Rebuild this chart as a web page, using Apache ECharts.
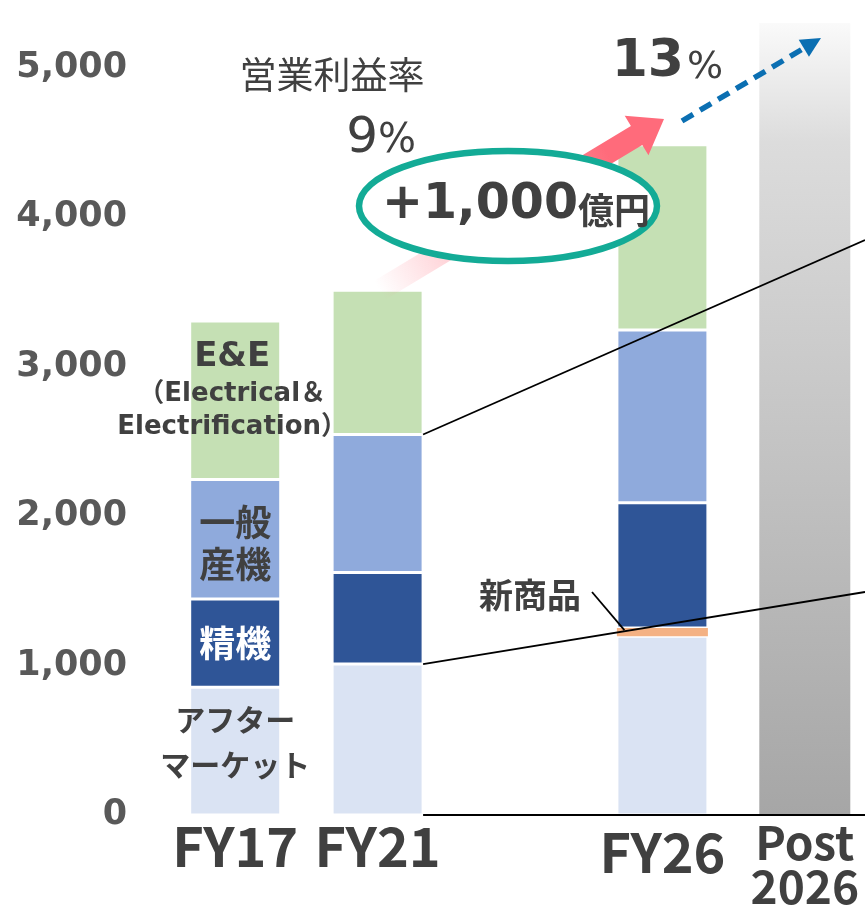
<!DOCTYPE html>
<html>
<head>
<meta charset="utf-8">
<script src="https://cdn.jsdelivr.net/npm/echarts@6/dist/echarts.min.js"></script>
<style>
  html, body { margin: 0; padding: 0; background: #fff; }
  #main { width: 865px; height: 909px; }
</style>
</head>
<body>
<div id="main"></div>
<script>
// 売上高 (億円) - 事業別
const categories = ['FY17', 'FY21', '', 'FY26', 'Post\n2026'];
const afterMarket = [855, 1010, null, 1196, null];
const newProducts = [null, null, null, 55, null];
const precision = [590, 612, null, 839, null];
const general = [800, 924, null, 1156, null];
const electrical = [1060, 965, null, 1239, null];
const post2026 = [null, null, null, null, 5300];

const JP = '"Noto Sans CJK JP", sans-serif';
const LAT = '"DejaVu Sans", "Noto Sans CJK JP", sans-serif';
const TXT = '#404040';
const HALF = 45.5;

const chart = echarts.init(document.getElementById('main'));

// FY17 の棒だけにラベルを付ける
function fy17Label(text, rich, offset) {
  return {
    show: true,
    position: 'inside',
    offset: offset || [0, 0],
    formatter: (p) => (p.dataIndex === 0 ? text : ''),
    rich: rich
  };
}

const seg = (name, data, color, label) => ({
  name: name,
  type: 'bar',
  stack: 'total',
  barWidth: 91,
  data: data,
  itemStyle: { color: color, borderColor: '#fff', borderWidth: 1.5 },
  label: label || { show: false }
});

chart.setOption({
  animation: false,
  grid: { left: 164, right: -11, top: 23, bottom: 94, containLabel: false, outerBoundsMode: 'none' },
  xAxis: {
    type: 'category',
    data: categories,
    axisLine: { show: false },
    axisTick: { show: false },
    axisLabel: {
      margin: 3,
      formatter: (v) => {
        if (v === 'FY26') return '{d|FY26}';
        if (v.indexOf('Post') === 0) return '{p|Post}\n{q|2026}';
        return '{a|' + v + '}';
      },
      rich: {
        a: { fontSize: 54, fontWeight: 'bold', fontFamily: JP, color: TXT, lineHeight: 56 },
        d: { fontSize: 54, fontWeight: 'bold', fontFamily: JP, color: TXT, lineHeight: 56, padding: [13, 0, 0, 0] },
        p: { fontSize: 46, fontWeight: 'bold', fontFamily: JP, color: TXT, lineHeight: 46, padding: [4, 0, 0, 0] },
        q: { fontSize: 46, fontWeight: 'bold', fontFamily: JP, color: TXT, lineHeight: 46 }
      }
    }
  },
  yAxis: {
    type: 'value',
    min: 0,
    max: 5300,
    interval: 1000,
    splitLine: { show: false },
    axisLine: { show: false },
    axisTick: { show: false },
    axisLabel: {
      showMaxLabel: false,
      margin: 37,
      fontSize: 35,
      fontWeight: 'bold',
      fontFamily: LAT,
      color: '#595959',
      formatter: (v) => (v % 1000 === 0 ? v.toLocaleString('en-US') : '')
    }
  },
  series: [
    seg('アフターマーケット', afterMarket, '#DAE3F3',
      fy17Label('{a|アフター}\n{a|マーケット}',
        { a: { fontSize: 30, lineHeight: 45, fontWeight: 'bold', fontFamily: JP, color: TXT } }, [0, -9])),
    Object.assign(seg('新商品', newProducts, '#F4B183'), { itemStyle: { color: '#F4B183', borderWidth: 0 } }),
    seg('精機', precision, '#2F5597',
      fy17Label('{a|精機}', { a: { fontSize: 36, fontWeight: 'bold', fontFamily: JP, color: '#fff' } })),
    seg('一般産機', general, '#8FAADC',
      fy17Label('{a|一般}\n{a|産機}',
        { a: { fontSize: 36, lineHeight: 42, fontWeight: 'bold', fontFamily: JP, color: TXT } }, [0, 4])),
    seg('E&E', electrical, '#C5E0B4',
      fy17Label('{a|E&E}\n{b|（Electrical＆}\n{b|Electrification）}', {
        a: { fontSize: 34, lineHeight: 40, fontWeight: 'bold', fontFamily: LAT, color: TXT },
        b: { fontSize: 26, lineHeight: 33, fontWeight: 'bold', fontFamily: LAT, color: TXT }
      }, [-3, -10])),
    {
      name: 'Post 2026',
      type: 'bar',
      stack: 'total',
      barWidth: 91,
      data: post2026,
      itemStyle: {
        color: new echarts.graphic.LinearGradient(0, 0, 0, 1, [
          { offset: 0, color: '#fafafa' },
          { offset: 0.15, color: '#dcdcdc' },
          { offset: 1, color: '#a6a6a6' }
        ])
      }
    }
  ]
});

// 注記を棒の位置から配置
const px = (i, v) => chart.convertToPixel({ gridIndex: 0 }, [i, v]);
const sum = (i, arrs) => arrs.reduce((s, a) => s + (a[i] || 0), 0);

const base21 = px(1, 0);
const gen21 = px(1, sum(1, [afterMarket, precision, general]));
const aft21 = px(1, afterMarket[1]);
const top21 = px(1, sum(1, [afterMarket, precision, general, electrical]));
const new26 = px(3, afterMarket[3] + newProducts[3] / 2);

// ピンクの矢印
const S = [top21[0] + 2, top21[1]];
const T = [664, 119];
const dx = T[0] - S[0], dy = T[1] - S[1];
const L = Math.sqrt(dx * dx + dy * dy);
const u = [dx / L, dy / L];
const n = [-u[1], u[0]];
const B = [T[0] - 32 * u[0], T[1] - 32 * u[1]];
const off = (p, k) => [p[0] + k * n[0], p[1] + k * n[1]];
const arrowPts = [off(S, 11), off(B, 11), off(B, 23), T, off(B, -23), off(B, -11), off(S, -11)];

// 青の点線矢印
const BS = [682, 121];
const BT = [821, 38];
const bdx = BT[0] - BS[0], bdy = BT[1] - BS[1];
const BL = Math.sqrt(bdx * bdx + bdy * bdy);
const bu = [bdx / BL, bdy / BL];
const bn = [-bu[1], bu[0]];
const BB = [BT[0] - 20 * bu[0], BT[1] - 20 * bu[1]];

const txt = (text, x, y, font, align, color) => ({
  type: 'text',
  z: 30,
  style: {
    text: text, x: x, y: y, font: font,
    fill: color || TXT,
    align: align, textAlign: align,
    verticalAlign: 'middle', textVerticalAlign: 'middle'
  }
});

chart.setOption({
  graphic: [
    {
      type: 'polygon', z: 10,
      shape: { points: arrowPts },
      style: {
        fill: new echarts.graphic.LinearGradient(S[0], S[1], T[0], T[1], [
          { offset: 0, color: 'rgba(255,107,123,0)' },
          { offset: 0.35, color: 'rgba(255,107,123,0.45)' },
          { offset: 0.8, color: 'rgba(255,107,123,1)' },
          { offset: 1, color: 'rgba(255,107,123,1)' }
        ], true)
      }
    },
    {
      type: 'line', z: 10,
      shape: { x1: BS[0], y1: BS[1], x2: BB[0], y2: BB[1] },
      style: { stroke: '#0B6FB2', lineWidth: 5.5, lineDash: [13, 8] }
    },
    {
      type: 'polygon', z: 10,
      shape: { points: [BT, [BB[0] + 10 * bn[0], BB[1] + 10 * bn[1]], [BB[0] - 10 * bn[0], BB[1] - 10 * bn[1]]] },
      style: { fill: '#0B6FB2' }
    },
    {
      type: 'ellipse', z: 20,
      shape: { cx: 508, cy: 206, rx: 149, ry: 55 },
      style: { fill: '#fff', stroke: '#13AB96', lineWidth: 6.5 }
    },
    txt('+1,000', 578, 205, 'bold 49px "DejaVu Sans", sans-serif', 'right'),
    txt('億円', 578, 210, 'bold 36px "Noto Sans CJK JP", sans-serif', 'left'),
    txt('営業利益率', 332, 75, '37px "Noto Sans CJK JP", sans-serif', 'center'),
    txt('9', 378, 139, '50px "DejaVu Sans", sans-serif', 'right'),
    txt('%', 378, 142, '40px "DejaVu Sans", sans-serif', 'left'),
    txt('13', 684, 62, 'bold 52px "DejaVu Sans", sans-serif', 'right'),
    txt('%', 687, 68, '38px "DejaVu Sans", sans-serif', 'left'),
    txt('新商品', 530, 595, 'bold 34px "Noto Sans CJK JP", sans-serif', 'center'),
    {
      type: 'line', z: 25,
      shape: { x1: 592, y1: 592, x2: new26[0] - 38, y2: new26[1] - 2 },
      style: { stroke: '#000', lineWidth: 1.8 }
    },
    {
      type: 'line', z: 25,
      shape: { x1: gen21[0] + HALF, y1: gen21[1], x2: 865, y2: 240 },
      style: { stroke: '#000', lineWidth: 1.8 }
    },
    {
      type: 'line', z: 25,
      shape: { x1: aft21[0] + HALF, y1: aft21[1], x2: 865, y2: 592 },
      style: { stroke: '#000', lineWidth: 1.8 }
    },
    {
      type: 'line', z: 25,
      shape: { x1: base21[0] + HALF, y1: base21[1], x2: 865, y2: base21[1] },
      style: { stroke: '#000', lineWidth: 2 }
    }
  ]
});
</script>
</body>
</html>
